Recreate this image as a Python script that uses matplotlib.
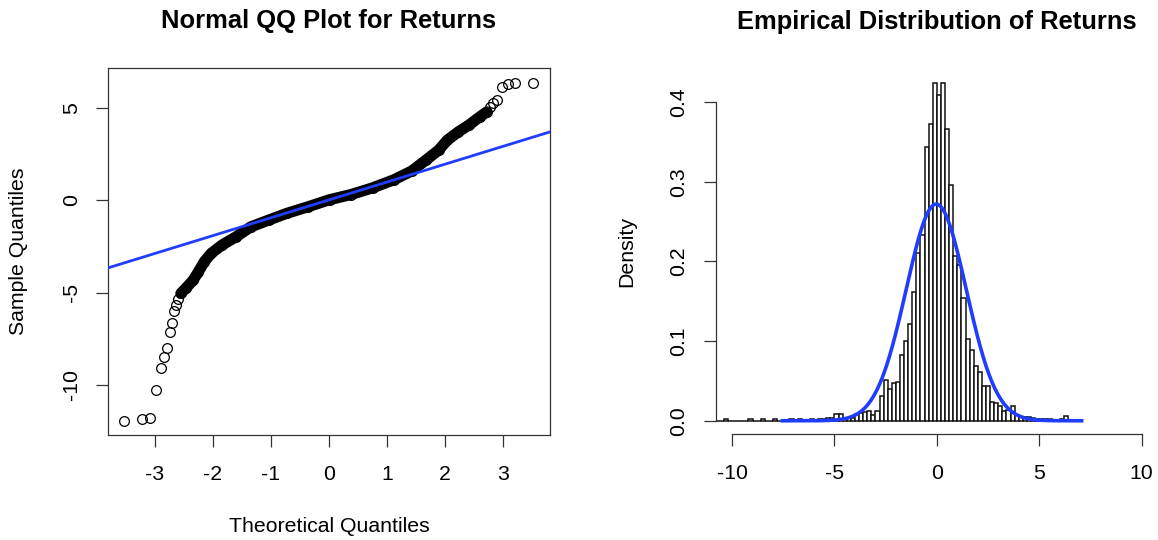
import numpy as np
import matplotlib.pyplot as plt

plt.rcParams["font.family"] = ["Liberation Sans", "DejaVu Sans"]
plt.rcParams["axes.unicode_minus"] = False

# QQ plot: points (theoretical, sample)
tail_low_theo = [-3.53, -3.23, -3.09, -2.98, -2.90, -2.84, -2.80, -2.74, -2.70, -2.67, -2.63, -2.60]
tail_low_samp = [-11.95, -11.84, -11.80, -10.27, -9.10, -8.47, -7.98, -7.15, -6.67, -6.00, -5.68, -5.35]
band_theo = [-2.555, -2.46, -2.34, -2.25, -2.15, -2.03, -1.845, -1.60, -1.35, -1.04, -0.73,
             -0.36, 0.01, 0.38, 0.75, 1.12, 1.43, 1.67, 1.89, 2.04, 2.23, 2.41, 2.60, 2.72]
band_samp = [-5.05, -4.74, -4.32, -3.87, -3.33, -2.88, -2.43, -1.98, -1.45, -1.08, -0.72,
             -0.36, 0.02, 0.30, 0.66, 1.10, 1.58, 2.16, 2.70, 3.24, 3.69, 4.05, 4.50, 4.77]
tail_high_theo = [2.78, 2.83, 2.89, 2.98, 3.09, 3.21, 3.52]
tail_high_samp = [5.04, 5.26, 5.41, 6.12, 6.27, 6.31, 6.34]
qq_intercept = 0.01
qq_slope = 0.965

# Histogram: density per 0.2-wide bin, starting at -12.0
bin_start = -12.0
bin_width = 0.2
density = [
    0.006, 0.0, 0.0, 0.0, 0.0, 0.0, 0.0, 0.0, 0.002, 0.0,        # -12.0 .. -10.2
    0.0, 0.0, 0.0, 0.0, 0.002, 0.0, 0.0, 0.002, 0.0, 0.0,        # -10.0 .. -8.2
    0.002, 0.0, 0.0, 0.0, 0.002, 0.0, 0.002, 0.0, 0.0, 0.002,    # -8.0 .. -6.2
    0.0, 0.002, 0.002, 0.004, 0.004, 0.008, 0.008, 0.004, 0.003, 0.004,  # -6.0 .. -4.2
    0.0088, 0.010, 0.011, 0.0117, 0.0067, 0.0125, 0.0305, 0.0506, 0.040, 0.047,  # -4.0 .. -2.2
    0.049, 0.083, 0.0995, 0.122, 0.162, 0.211, 0.233, 0.343, 0.372, 0.4245,    # -2.0 .. -0.2
    0.409, 0.4245, 0.366, 0.296, 0.207, 0.195, 0.154, 0.102, 0.089, 0.069,     # 0.0 .. 1.8
    0.061, 0.043, 0.043, 0.023, 0.022, 0.018, 0.012, 0.013, 0.019, 0.0075,     # 2.0 .. 3.8
    0.005, 0.005, 0.005, 0.004, 0.002, 0.002, 0.002, 0.002, 0.0, 0.0,          # 4.0 .. 5.8
    0.002, 0.006,                                                             # 6.0 .. 6.2
]
fit_mean = -0.03
fit_sd = 1.467
fit_from, fit_to = -7.54, 7.07

blue = "#1f3dff"

fig = plt.figure(figsize=(11.58, 5.40), dpi=100)

# ---- left: normal QQ plot ----
ax1 = fig.add_axes([108 / 1158, 1 - 435 / 540, 442 / 1158, 367 / 540])
ax1.plot(band_theo, band_samp, color="black", lw=8, solid_capstyle="round", zorder=2)
circ = dict(marker="o", ls="none", mfc="none", mec="black", ms=7, mew=0.9, zorder=3)
ax1.plot(tail_low_theo, tail_low_samp, **circ)
ax1.plot(band_theo, band_samp, **circ)
ax1.plot(tail_high_theo, tail_high_samp, **circ)
ax1.axline((0, qq_intercept), slope=qq_slope, color=blue, lw=2, zorder=4)

ax1.set_xlim(-3.81, 3.81)
ax1.set_ylim(-12.7, 7.14)
ax1.set_xticks([-3, -2, -1, 0, 1, 2, 3])
ax1.set_yticks([-10, -5, 0, 5])
for s in ax1.spines.values():
    s.set_color("#333333")
    s.set_linewidth(0.9)
ax1.tick_params(length=8.6, width=0.9, color="#333333", labelsize=15.3, pad=13)
ax1.tick_params(axis="y", labelrotation=90, pad=11)
for lab in ax1.get_yticklabels():
    lab.set_va("center")
ax1.set_title("Normal QQ Plot for Returns", fontsize=18.4, fontweight="bold", pad=29)
ax1.set_xlabel("Theoretical Quantiles", fontsize=15.3, labelpad=24)
ax1.set_ylabel("Sample Quantiles", fontsize=15.3, labelpad=24)

# ---- right: histogram with fitted normal ----
ax2 = fig.add_axes([715.7 / 1158, 1 - 434.3 / 540, (1158 - 715.7) / 1158, 365.3 / 540])
lefts = bin_start + bin_width * np.arange(len(density))
ax2.bar(lefts, density, width=bin_width, align="edge", facecolor="white",
        edgecolor="#111111", linewidth=1.1, zorder=2)
xs = np.linspace(fit_from, fit_to, 400)
ax2.plot(xs, np.exp(-0.5 * ((xs - fit_mean) / fit_sd) ** 2) / (fit_sd * np.sqrt(2 * np.pi)),
         color=blue, lw=2.6, zorder=3)

ax2.set_xlim(-10.8, 10.8)
ax2.set_ylim(-0.017, 0.4415)
ax2.set_xticks([-10, -5, 0, 5, 10])
ax2.set_yticks([0.0, 0.1, 0.2, 0.3, 0.4])
ax2.set_yticklabels(["0.0", "0.1", "0.2", "0.3", "0.4"])
ax2.spines["top"].set_visible(False)
ax2.spines["right"].set_visible(False)
ax2.spines["bottom"].set_bounds(-10, 10)
ax2.spines["left"].set_bounds(0, 0.4)
for s in ("bottom", "left"):
    ax2.spines[s].set_color("#333333")
    ax2.spines[s].set_linewidth(0.9)
ax2.tick_params(length=8.6, width=0.9, color="#333333", labelsize=15.3, pad=13)
ax2.tick_params(axis="y", labelrotation=90, pad=11)
for lab in ax2.get_yticklabels():
    lab.set_va("center")
ax2.set_title("Empirical Distribution of Returns", fontsize=18.4, fontweight="bold", pad=29)
ax2.set_ylabel("Density", fontsize=15.3, labelpad=24)

fig.savefig("out.png", dpi=100)
